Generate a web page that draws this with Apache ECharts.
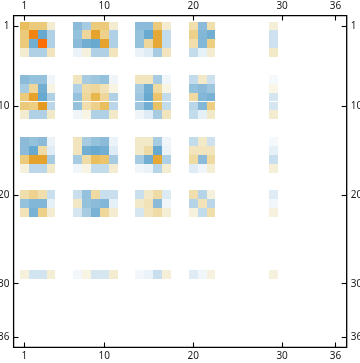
<!DOCTYPE html>
<html><head><meta charset="utf-8">
<style>html,body{margin:0;padding:0;background:#fff}#c{width:360px;height:363px}</style>
<script src="https://cdn.jsdelivr.net/npm/echarts@6/dist/echarts.min.js"></script>
</head><body><div id="c"></div>
<script>
const size = 36;
const tickLabels = [1, 10, 20, 30, 36];
const activeCols = [1,2,3,4, 7,8,9,10,11, 14,15,16,17, 20,21,22, 29];
const activeRows = [1,2,3,4, 7,8,9,10,11, 14,15,16,17, 20,21,22, 29];
const row1  = [0.55,0.45,0.45,0.2, -0.6,-0.45,0.45,0.45,0.2, -0.6,-0.6,0.45,0.2, 0.3,-0.6,0.3, 0.17];
const row2  = [0.45,0.9,-0.8,-0.4, -0.55,0.35,0.75,0.4,-0.4, -0.55,-0.8,0.7,-0.3, 0.4,-0.65,-0.75, -0.25];
const row3  = [0.45,-0.75,1.0,-0.4, -0.6,-0.75,-0.8,0.75,-0.4, -0.55,0.35,0.7,-0.3, 0.3,-0.65,0.42, -0.25];
const row4  = [0.2,-0.4,-0.4,0.25, -0.1,0.15,-0.4,-0.4,0.25, -0.1,-0.15,-0.45,0.25, -0.3,-0.12,0.2, 0.22];
const row7  = [-0.6,-0.55,-0.55,-0.08, 0.25,-0.45,-0.5,-0.55,-0.08, 0.25,0.25,-0.45,-0.07, -0.3,0.22,-0.25, -0.05];
const row8  = [-0.45,0.35,-0.75,0.12, -0.4,0.32,0.35,0.27,0.12, -0.45,-0.75,0.33,0.12, -0.55,-0.6,-0.5, 0.1];
const row9  = [0.45,0.75,-0.8,-0.4, -0.55,0.35,0.6,0.35,-0.4, -0.5,-0.8,0.5,-0.3, 0.33,-0.65,-0.7, -0.2];
const row10 = [0.45,0.42,0.8,-0.35, -0.55,0.3,0.4,0.55,-0.35, -0.5,-0.75,0.52,-0.3, -0.35,-0.65,0.42, -0.2];
const row11 = [0.2,-0.4,-0.4,0.22, -0.08,0.12,-0.4,-0.4,0.22, -0.08,-0.15,-0.45,0.25, -0.3,-0.12,0.22, 0.2];
const row14 = [-0.6,-0.55,-0.6,-0.1, 0.25,-0.45,-0.55,-0.6,-0.1, 0.22,0.22,-0.45,-0.08, -0.3,0.22,-0.25, -0.05];
const row15 = [-0.6,-0.8,0.32,-0.15, 0.25,-0.75,-0.8,-0.75,-0.15, 0.22,0.32,-0.8,-0.1, 0.25,0.25,0.25, -0.12];
const row16 = [0.45,0.75,0.75,-0.45, -0.45,0.32,0.55,0.5,-0.45, -0.45,-0.75,0.7,-0.4, 0.33,-0.6,0.33, -0.27];
const row17 = [0.15,-0.35,-0.35,0.22, -0.07,0.12,-0.3,-0.3,0.2, -0.07,-0.1,-0.37,0.2, -0.15,-0.08,0.18, 0.17];
const row20 = [0.3,0.38,0.3,-0.27, -0.27,-0.55,0.33,-0.27,-0.27, -0.27,0.22,0.32,-0.17, 0.3,-0.37,0.15, -0.15];
const row21 = [-0.55,-0.65,-0.65,-0.12, 0.23,-0.55,-0.6,-0.65,-0.12, 0.22,0.27,-0.6,-0.08, -0.37,0.27,-0.35, -0.07];
const row22 = [0.27,-0.7,0.4,0.2, -0.2,-0.45,-0.7,0.35,0.2, -0.2,0.25,0.32,0.18, 0.15,-0.3,0.3, 0.15];
const row29 = [0.15,-0.22,-0.22,0.18, -0.06,0.12,-0.2,-0.2,0.2, -0.06,-0.1,-0.27,0.17, -0.15,-0.07,0.15, 0.15];
const rows = [row1,row2,row3,row4,row7,row8,row9,row10,row11,row14,row15,row16,row17,row20,row21,row22,row29];
const colorStops = ['#4a96c8','#68a9d0','#8bbbd9','#b0d1e5','#d6e6f1','#ffffff','#f3ecd0','#edd089','#e8b84f','#e49a20','#ff6e00'];

const cats = Array.from({length: size}, (_, i) => String(i + 1));
const data = [];
rows.forEach((r, ri) => r.forEach((v, ci) => data.push([activeCols[ci] - 1, activeRows[ri] - 1, v])));
const FONT = 'Noto Sans';
const show = (i) => tickLabels.includes(i + 1);
function axis(extra, gridOff, pos) {
  return Object.assign({
    type: 'category', data: cats, gridIndex: 0, position: pos, offset: gridOff,
    axisLine: {show: false},
    axisTick: {show: true, inside: true, length: 5, alignWithLabel: true, interval: show, lineStyle: {color: '#000', width: 1.1}},
    axisLabel: {show: true, interval: show, margin: 4, color: '#1a1a1a', fontFamily: FONT, fontSize: 10},
    splitLine: {show: false}
  }, extra);
}
function renderCell(params, api) {
  const c = api.coord([api.value(0), api.value(1)]);
  const s = api.size([1, 1]);
  const x0 = Math.round(c[0] - s[0] / 2), x1 = Math.round(c[0] + s[0] / 2);
  const y0 = Math.round(c[1] - s[1] / 2), y1 = Math.round(c[1] + s[1] / 2);
  return {type: 'rect', shape: {x: x0, y: y0, width: x1 - x0, height: y1 - y0},
          style: {fill: api.visual('color'), stroke: null}, silent: true};
}
const chart = echarts.init(document.getElementById('c'), null, {renderer: 'canvas'});
chart.setOption({
  animation: false,
  backgroundColor: '#fff',
  grid: [
    {left: 19.9, top: 21.5, width: 320, height: 320, show: false, containLabel: false, outerBoundsMode: 'none'},
    {left: 13.6, top: 15.6, width: 333.1, height: 331.8, show: true, backgroundColor: 'transparent', borderColor: '#000', borderWidth: 1.3, outerBoundsMode: 'none'}
  ],
  xAxis: [
    axis({}, 6, 'top'),
    axis({}, 6, 'bottom'),
    {type: 'value', gridIndex: 1, show: false}
  ],
  yAxis: [
    axis({inverse: true}, 6.4, 'left'),
    axis({inverse: true}, 6.8, 'right'),
    {type: 'value', gridIndex: 1, show: false}
  ],
  visualMap: {show: false, type: 'continuous', min: -1, max: 1, dimension: 2, seriesIndex: 0, inRange: {color: colorStops}},
  series: [{type: 'custom', xAxisIndex: 0, yAxisIndex: 0, data: data, renderItem: renderCell, encode: {x: 0, y: 1}, silent: true}]
});
</script></body></html>
